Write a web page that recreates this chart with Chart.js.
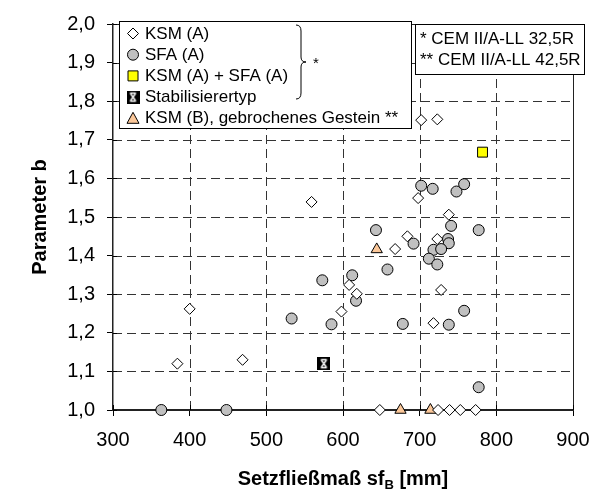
<!DOCTYPE html>
<html lang="de">
<head>
<meta charset="UTF-8">
<title>Parameter b</title>
<script src="https://cdn.jsdelivr.net/npm/chart.js"></script>
<style>
  body{margin:0; background:#fff;}
  #wrap{width:602px; height:496px;}
</style>
</head>
<body>
<div id="wrap"><canvas id="myChart"></canvas></div>
<script>
// KSM (A)
const ksmX = [384, 400, 469, 559, 598, 608, 618, 668, 684, 698, 702, 723, 723, 738, 728, 718, 648, 724, 739, 753, 773];
const ksmY = [1.12, 1.262, 1.13, 1.539, 1.255, 1.324, 1.301, 1.417, 1.45, 1.549, 1.751, 1.753, 1.443, 1.506, 1.311, 1.225, 1.0, 1.0, 1.0, 1.0, 1.0];
// SFA (A)
const sfaX = [363, 448, 533, 585, 573, 612, 617, 643, 658, 678, 692, 702, 717, 748, 758, 741, 777, 737, 738, 718, 728, 712, 723, 758, 738, 777];
const sfaY = [1.0, 1.0, 1.237, 1.222, 1.336, 1.349, 1.283, 1.466, 1.364, 1.223, 1.431, 1.581, 1.573, 1.566, 1.585, 1.477, 1.466, 1.443, 1.432, 1.415, 1.417, 1.392, 1.377, 1.257, 1.221, 1.059];
// KSM (A) + SFA (A)
const mixX = [782];
const mixY = [1.668];
// Stabilisierertyp
const stabX = [575];
const stabY = [1.12];
// KSM (B), gebrochenes Gestein
const ksmBX = [644, 675, 714];
const ksmBY = [1.416, 1.0, 1.0];

const xMin = 300, xMax = 900, xStep = 100;
const yMin = 1.0, yMax = 2.0, yStep = 0.1;

const legendLabels = ['KSM (A)', 'SFA (A)', 'KSM (A) + SFA (A)', 'Stabilisierertyp', 'KSM (B), gebrochenes Gestein **'];
const noteLabels = ['* CEM II/A-LL 32,5R', '** CEM II/A-LL 42,5R'];

const FONT = '"Liberation Sans", Arial, sans-serif';

function pts(xs, ys){ return xs.map((x, i) => ({x: x, y: ys[i]})); }

function stabIcon(){
  const c = document.createElement('canvas');
  c.width = 13; c.height = 13;
  const g = c.getContext('2d');
  g.fillStyle = '#000'; g.fillRect(0, 0, 13, 13);
  g.strokeStyle = '#fff'; g.lineWidth = 1.4;
  g.beginPath();
  g.moveTo(3.5, 2.5); g.lineTo(9.5, 2.5);
  g.moveTo(3.5, 10.5); g.lineTo(9.5, 10.5);
  g.moveTo(4, 3); g.lineTo(9, 10);
  g.moveTo(9, 3); g.lineTo(4, 10);
  g.stroke();
  return c;
}
const stabImg = stabIcon();

// legend markers, drawn by hand
function drawMarker(ctx, i, x, y){
  ctx.save();
  ctx.lineWidth = 1;
  ctx.strokeStyle = '#000';
  ctx.beginPath();
  if (i === 0){
    ctx.fillStyle = '#fff';
    ctx.moveTo(x, y - 5.5); ctx.lineTo(x + 5.5, y); ctx.lineTo(x, y + 5.5); ctx.lineTo(x - 5.5, y); ctx.closePath();
    ctx.fill(); ctx.stroke();
  } else if (i === 1){
    ctx.fillStyle = '#c0c0c0';
    ctx.arc(x, y, 5.5, 0, Math.PI * 2);
    ctx.fill(); ctx.stroke();
  } else if (i === 2){
    ctx.fillStyle = '#ffff00';
    ctx.rect(x - 5, y - 5, 10, 10);
    ctx.fill(); ctx.stroke();
  } else if (i === 3){
    ctx.drawImage(stabImg, x - 6.5, y - 6.5);
  } else {
    ctx.fillStyle = '#fbc799';
    ctx.moveTo(x, y - 6); ctx.lineTo(x + 6, y + 5); ctx.lineTo(x - 6, y + 5); ctx.closePath();
    ctx.fill(); ctx.stroke();
  }
  ctx.restore();
}

const decor = {
  id: 'decor',
  beforeDatasetsDraw(chart){
    const {ctx, chartArea: a} = chart;
    const xs = chart.scales.x, ys = chart.scales.y;
    ctx.save();
    // dashed grid
    ctx.strokeStyle = '#333';
    ctx.lineWidth = 1;
    ctx.setLineDash([9, 5]);
    ctx.beginPath();
    xs.ticks.forEach(t => {
      if (t.value === xMin) return;
      const px = Math.round(xs.getPixelForValue(t.value)) + 0.5;
      ctx.moveTo(px, a.bottom); ctx.lineTo(px, a.top);
    });
    ys.ticks.forEach(t => {
      if (t.value === yMin) return;
      const py = Math.round(ys.getPixelForValue(t.value)) + 0.5;
      ctx.moveTo(a.left, py); ctx.lineTo(a.right, py);
    });
    ctx.stroke();
    ctx.setLineDash([]);
    // frame top / right
    ctx.strokeStyle = '#222';
    ctx.beginPath();
    ctx.moveTo(a.left, Math.round(a.top) + 0.5); ctx.lineTo(Math.round(a.right) + 0.5, Math.round(a.top) + 0.5);
    ctx.lineTo(Math.round(a.right) + 0.5, a.bottom);
    ctx.stroke();
    // inner half of the tick marks
    ctx.strokeStyle = '#000';
    ctx.beginPath();
    xs.ticks.forEach(t => { const px = Math.round(xs.getPixelForValue(t.value)) + 0.5; ctx.moveTo(px, a.bottom); ctx.lineTo(px, a.bottom - 5); });
    ys.ticks.forEach(t => { const py = Math.round(ys.getPixelForValue(t.value)) + 0.5; ctx.moveTo(a.left, py); ctx.lineTo(a.left + 4, py); });
    ctx.stroke();
    ctx.restore();
  },
  afterDraw(chart){
    const {ctx, chartArea: a} = chart;
    ctx.save();
    ctx.fillStyle = '#000';
    // y title
    ctx.font = 'bold 20px ' + FONT;
    ctx.textAlign = 'center'; ctx.textBaseline = 'middle';
    ctx.translate(40, (a.top + a.bottom) / 2); ctx.rotate(-Math.PI / 2);
    ctx.fillText('Parameter b', 0, 0);
    ctx.setTransform(1, 0, 0, 1, 0, 0);
    // x title with subscript
    const p1 = 'Setzfließmaß sf', sub = 'B', p2 = ' [mm]';
    ctx.font = 'bold 20px ' + FONT; const w1 = ctx.measureText(p1).width, w3 = ctx.measureText(p2).width;
    ctx.font = 'bold 13px ' + FONT; const w2 = ctx.measureText(sub).width;
    let x0 = (a.left + a.right) / 2 - (w1 + w2 + w3) / 2;
    ctx.textAlign = 'left'; ctx.textBaseline = 'alphabetic';
    ctx.font = 'bold 20px ' + FONT; ctx.fillText(p1, x0, 485);
    ctx.font = 'bold 13px ' + FONT; ctx.fillText(sub, x0 + w1, 489);
    ctx.font = 'bold 20px ' + FONT; ctx.fillText(p2, x0 + w1 + w2, 485);

    // legend box
    ctx.lineWidth = 1; ctx.strokeStyle = '#000';
    ctx.fillStyle = '#fff';
    ctx.fillRect(119.5, 21.5, 292, 107); ctx.strokeRect(119.5, 21.5, 292, 107);
    ctx.font = '17px ' + FONT; ctx.textBaseline = 'middle'; ctx.textAlign = 'left';
    legendLabels.forEach((lab, i) => {
      const yy = 33.5 + i * 21.2;
      drawMarker(ctx, i, 133, yy);
      ctx.fillStyle = '#000';
      ctx.fillText(lab, 145, yy + 0.5);
    });
    // brace
    ctx.beginPath();
    const bx = 299, bt = 25, bb = 99, bm = (bt + bb) / 2;
    ctx.moveTo(bx - 3, bt);
    ctx.quadraticCurveTo(bx + 2, bt, bx + 2, bt + 6);
    ctx.lineTo(bx + 2, bm - 5);
    ctx.quadraticCurveTo(bx + 2, bm, bx + 7, bm);
    ctx.quadraticCurveTo(bx + 2, bm, bx + 2, bm + 5);
    ctx.lineTo(bx + 2, bb - 6);
    ctx.quadraticCurveTo(bx + 2, bb, bx - 3, bb);
    ctx.stroke();
    ctx.fillStyle = '#000';
    ctx.font = '15px ' + FONT;
    ctx.fillText('*', 313, 64);

    // notes box
    ctx.fillStyle = '#fff';
    ctx.fillRect(415.5, 24.5, 169, 50); ctx.strokeRect(415.5, 24.5, 169, 50);
    ctx.fillStyle = '#000';
    ctx.font = '17px ' + FONT;
    noteLabels.forEach((lab, i) => ctx.fillText(lab, 420, 39 + i * 21));
    ctx.restore();
  }
};

const ctx = document.getElementById('myChart');
const configs = {
  type: 'scatter',
  data: {
    datasets: [
      {label: legendLabels[0], data: pts(ksmX, ksmY), pointStyle: 'rectRot', pointRadius: 5.5, backgroundColor: '#fff', borderColor: '#000', borderWidth: 1, clip: false},
      {label: legendLabels[1], data: pts(sfaX, sfaY), pointStyle: 'circle', pointRadius: 5.5, backgroundColor: '#c0c0c0', borderColor: '#000', borderWidth: 1, clip: false},
      {label: legendLabels[2], data: pts(mixX, mixY), pointStyle: 'rect', pointRadius: 7, backgroundColor: '#ffff00', borderColor: '#000', borderWidth: 1, clip: false},
      {label: legendLabels[3], data: pts(stabX, stabY), pointStyle: stabImg, pointRadius: 6.5, clip: false},
      {label: legendLabels[4], data: pts(ksmBX, ksmBY), pointStyle: 'triangle', pointRadius: 6.5, backgroundColor: '#fbc799', borderColor: '#000', borderWidth: 1, clip: false}
    ]
  },
  options: {
    responsive: false,
    animation: false,
    layout: {padding: {top: 16, right: 29, left: 0, bottom: 0}},
    plugins: {legend: {display: false}, tooltip: {enabled: false}},
    scales: {
      x: {
        type: 'linear', min: xMin, max: xMax,
        afterFit(s){ s.height = 86; },
        ticks: {stepSize: xStep, color: '#000', padding: 12, font: {family: FONT, size: 20}},
        grid: {drawOnChartArea: false, tickLength: 6, tickColor: '#000'},
        border: {color: '#222', width: 2}
      },
      y: {
        type: 'linear', min: yMin, max: yMax,
        afterFit(s){ s.width = 113; },
        ticks: {stepSize: yStep, color: '#000', padding: 12, font: {family: FONT, size: 20},
          callback: v => v.toFixed(1).replace('.', ',')},
        grid: {drawOnChartArea: false, tickLength: 6, tickColor: '#000'},
        border: {color: '#222', width: 1.5}
      }
    }
  },
  plugins: [decor]
};
ctx.width = 602; ctx.height = 496;
let myChart = new Chart(ctx, configs);
</script>
</body>
</html>
